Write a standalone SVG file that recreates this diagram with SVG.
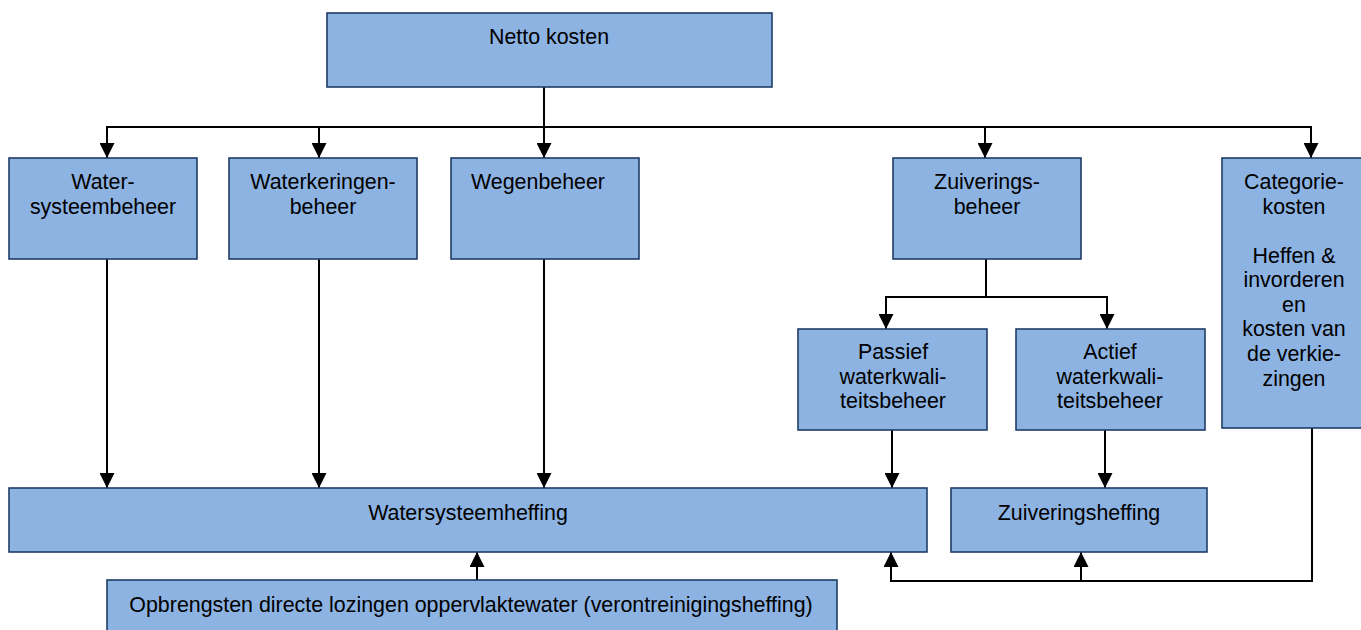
<svg xmlns="http://www.w3.org/2000/svg" width="1361" height="630" viewBox="0 0 1361 630">
<defs>
<style>
.box{fill:#8DB3E2;stroke:#1F3D66;stroke-width:1.6}
.t{font-family:"Liberation Sans",Arial,sans-serif;font-size:21.4px;fill:#000;text-anchor:middle}
.c{fill:none;stroke:#000;stroke-width:2}
</style>
<marker id="ah" markerUnits="userSpaceOnUse" markerWidth="15" markerHeight="15" refX="15" refY="7.5" orient="auto" viewBox="0 0 15 15">
<path d="M0,0 L15,7.5 L0,15 z" fill="#000"/>
</marker>
</defs>
<rect width="1361" height="630" fill="#fff"/>
<g id="connectors">
<line class="c" x1="544" y1="87" x2="544" y2="127"/>
<line class="c" x1="106" y1="127" x2="1312" y2="127"/>
<line class="c" x1="107" y1="127" x2="107" y2="158" marker-end="url(#ah)"/>
<line class="c" x1="319" y1="127" x2="319" y2="158" marker-end="url(#ah)"/>
<line class="c" x1="544" y1="127" x2="544" y2="158" marker-end="url(#ah)"/>
<line class="c" x1="985" y1="127" x2="985" y2="158" marker-end="url(#ah)"/>
<line class="c" x1="1311" y1="127" x2="1311" y2="158" marker-end="url(#ah)"/>
<line class="c" x1="107" y1="259" x2="107" y2="488" marker-end="url(#ah)"/>
<line class="c" x1="319" y1="259" x2="319" y2="488" marker-end="url(#ah)"/>
<line class="c" x1="544" y1="259" x2="544" y2="488" marker-end="url(#ah)"/>
<line class="c" x1="986" y1="259" x2="986" y2="297"/>
<line class="c" x1="885" y1="297" x2="1108" y2="297"/>
<line class="c" x1="886" y1="297" x2="886" y2="329" marker-end="url(#ah)"/>
<line class="c" x1="1107" y1="297" x2="1107" y2="329" marker-end="url(#ah)"/>
<line class="c" x1="892" y1="430" x2="892" y2="488" marker-end="url(#ah)"/>
<line class="c" x1="1105" y1="430" x2="1105" y2="488" marker-end="url(#ah)"/>
<polyline class="c" points="1312,428 1312,581 891,581"/>
<line class="c" x1="891" y1="582" x2="891" y2="552" marker-end="url(#ah)"/>
<line class="c" x1="1081" y1="581" x2="1081" y2="552" marker-end="url(#ah)"/>
<line class="c" x1="477" y1="580" x2="477" y2="552" marker-end="url(#ah)"/>
</g>
<g id="netto"><rect class="box" x="327" y="13" width="445" height="74"/><text class="t" x="549" y="44">Netto kosten</text></g>
<g id="watersysteembeheer"><rect class="box" x="9" y="158" width="188" height="101"/><text class="t" x="103" y="189">Water-</text><text class="t" x="103" y="214">systeembeheer</text></g>
<g id="waterkeringenbeheer"><rect class="box" x="229" y="158" width="188" height="101"/><text class="t" x="323" y="189">Waterkeringen-</text><text class="t" x="323" y="214">beheer</text></g>
<g id="wegenbeheer"><rect class="box" x="451" y="158" width="188" height="101"/><text class="t" x="538" y="189">Wegenbeheer</text></g>
<g id="zuiveringsbeheer"><rect class="box" x="893" y="158" width="188" height="101"/><text class="t" x="987" y="189">Zuiverings-</text><text class="t" x="987" y="214">beheer</text></g>
<g id="categoriekosten"><rect class="box" x="1222" y="158" width="144" height="270"/><text class="t" x="1294" y="189">Categorie-</text><text class="t" x="1294" y="214">kosten</text><text class="t" x="1294" y="263">Heffen &amp;</text><text class="t" x="1294" y="287">invorderen</text><text class="t" x="1294" y="312">en</text><text class="t" x="1294" y="336">kosten van</text><text class="t" x="1294" y="361">de verkie-</text><text class="t" x="1294" y="386">zingen</text></g>
<g id="passief"><rect class="box" x="798" y="329" width="189" height="101"/><text class="t" x="893" y="359">Passief</text><text class="t" x="893" y="384">waterkwali-</text><text class="t" x="893" y="408">teitsbeheer</text></g>
<g id="actief"><rect class="box" x="1016" y="329" width="189" height="101"/><text class="t" x="1110" y="359">Actief</text><text class="t" x="1110" y="384">waterkwali-</text><text class="t" x="1110" y="408">teitsbeheer</text></g>
<g id="watersysteemheffing"><rect class="box" x="9" y="488" width="918" height="64"/><text class="t" x="468" y="520">Watersysteemheffing</text></g>
<g id="zuiveringsheffing"><rect class="box" x="951" y="488" width="256" height="64"/><text class="t" x="1079" y="520">Zuiveringsheffing</text></g>
<g id="opbrengsten"><rect class="box" x="107" y="580" width="730" height="60"/><text class="t" x="471" y="612">Opbrengsten directe lozingen oppervlaktewater (verontreinigingsheffing)</text></g>
</svg>
